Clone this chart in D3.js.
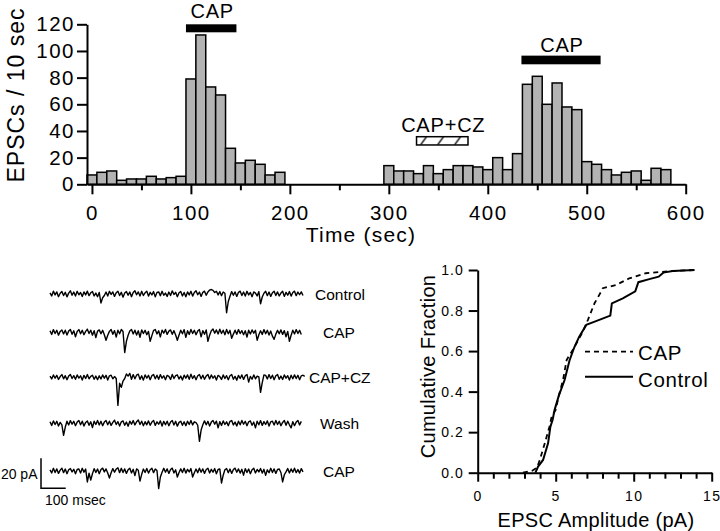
<!DOCTYPE html>
<html><head><meta charset="utf-8">
<script src="https://cdn.jsdelivr.net/npm/d3@7"></script>
<style>
html,body{margin:0;padding:0;background:#fff;}
svg text{font-family:"Liberation Sans",Arial,Helvetica,sans-serif;fill:#000;}
</style></head>
<body>
<svg id="fig" width="720" height="531"></svg>
<script>
// ---------- Top histogram data (EPSCs / 10 sec) ----------
const binTimes = [0,10,20,30,40,50,60,70,80,90,100,110,120,130,140,150,160,170,180,190,
  300,310,320,330,340,350,360,370,380,390,400,410,420,430,440,450,460,470,480,490,500,510,520,530,540,550,560,570,580];
const binCounts = [7,9,10,3,4,4,6,4,5,6,79,112,73,67,27,16,18,15,7,9,
  14,10,10,8,14,8,11,14,14,13,11,20,11,23,75,81,60,76,58,56,17,15,11,7,9,10,3,12,11];
const xTicksMajor = [0,100,200,300,400,500,600];
const xTicksMinor = [50,150,250,350,450,550];
const yTicks = [0,20,40,60,80,100,120];
const treatLabels = ["CAP","CAP+CZ","CAP"];
const treatStart = [95,328,434];
const treatEnd = [146,380,514];

// ---------- Cumulative fraction data ----------
const capAmp  = [2.9,3.5,3.8,3.98,4.3,4.6,4.75,5.0,5.2,5.47,5.7,6.2,6.74,7.06,7.49,7.91,8.02,8.87,9.72,10.78,12.5,13.87];
const capFrac = [0.0,0.01,0.025,0.063,0.145,0.227,0.28,0.31,0.38,0.457,0.556,0.62,0.696,0.753,0.836,0.893,0.91,0.926,0.959,0.984,0.995,1.0];
const ctrlAmp  = [3.7,3.87,4.19,4.51,4.66,4.8,4.93,5.2,5.57,5.89,6.2,6.5,6.96,7.5,8.0,8.5,8.6,9.3,10.1,10.3,11.0,11.6,11.9,12.5,13.9];
const ctrlFrac = [0.0,0.03,0.063,0.145,0.227,0.26,0.31,0.38,0.457,0.555,0.62,0.67,0.729,0.745,0.76,0.775,0.835,0.86,0.895,0.94,0.955,0.967,0.987,0.995,1.0];
const cdfXTicks = [0,5,10,15];
const cdfXMinor = [1,2,3,4,6,7,8,9,11,12,13,14];
const cdfYTicks = [0,0.2,0.4,0.6,0.8,1.0];

// ---------- Example current traces (pA, sampled every 6.87 ms) ----------
const traceNames = ["Control","CAP","CAP+CZ","Wash","CAP"];
const traceControl = [
0.8,-1.3,1.9,-0.6,1.4,-1.8,0.5,1.6,-1.0,1.1,-1.9,0.6,2.1,-0.8,1.3,-1.4,1.8,-0.5,1.0,-1.6,
1.4,-0.6,1.9,-1.1,0.8,1.6,-1.3,0.6,-1.8,1.0,-6.0,-2.5,-1.0,1.3,-1.4,1.8,-0.3,1.4,-1.6,0.8,
1.9,-1.0,1.1,-2.1,0.6,1.6,-0.8,1.3,-1.8,1.0,2.1,-0.5,1.4,-1.3,1.8,-1.0,0.8,1.9,-1.4,1.1,
-0.6,1.6,-1.9,1.0,1.4,-1.1,1.8,-0.8,0.6,-1.6,1.3,-1.0,2.1,-0.3,1.1,-1.8,0.8,1.6,-1.3,1.0,
-1.9,1.4,-0.6,1.8,-1.4,1.0,2.2,-0.5,1.3,-1.6,1.1,1.9,-0.8,1.4,2.6,3.0,2.4,1.0,1.8,-0.6,
1.6,-1.1,1.3,0.5,-12.5,-5.0,-1.5,1.6,-0.8,1.4,-1.6,1.1,1.9,-1.0,1.3,-1.4,1.8,-0.6,1.0,-1.8,
1.4,0.6,-1.3,1.6,-6.5,-2.0,0.5,1.8,-1.1,1.3,-1.6,0.8,1.9,-1.0,1.4,-1.3,0.6,1.8,-1.6,1.1,
-0.8,1.6,-1.4,1.0,1.9,-1.1,1.3,-0.5,1.4,-1.0];
const traceCap1 = [
1.0,-1.4,1.8,-0.8,1.3,-1.9,0.6,1.6,-1.1,1.4,-1.8,0.8,1.9,-1.3,1.0,-3.0,0.5,1.8,-1.0,1.3,
-1.6,0.6,2.1,-0.8,1.4,-1.9,1.1,-3.5,0.8,1.6,-1.0,1.3,-1.6,-5.3,-2.0,0.6,1.8,-1.3,1.1,-3.2,
1.4,-1.0,1.9,0.5,-13.5,-6.0,-2.0,0.8,1.9,-1.1,1.4,-1.8,1.0,-3.3,1.6,-0.8,1.3,-1.6,0.6,-6.0,
-2.2,1.3,1.8,-1.1,1.0,-3.1,1.4,-0.6,1.9,-1.4,0.8,1.6,-1.3,1.1,-1.8,-5.3,-1.8,1.4,-1.0,1.8,
-3.4,1.0,-1.4,1.9,-0.8,1.3,-1.6,0.8,1.8,-3.0,1.1,-1.3,1.6,-6.0,-2.0,1.0,2.2,-0.6,1.6,-1.1,
2.1,-0.8,1.4,-1.6,1.9,-1.0,1.3,-4.0,-1.2,1.4,-1.3,1.8,-0.8,1.1,-1.6,1.0,-3.2,1.4,-1.1,1.6,
-0.6,1.3,-5.3,-1.6,1.0,-1.4,1.8,-1.0,1.3,-1.8,0.8,-2.6,-4.7,-1.2,1.3,-1.0,1.6,-1.4,1.1,-3.0,
0.6,-6.0,-2.0,1.4,-1.1,1.8,-0.8,1.3,-1.4];
const traceCapCz = [
0.8,-1.1,1.6,-0.6,1.3,-1.4,0.5,1.8,-1.0,1.1,-1.6,0.8,1.9,-0.8,1.1,-1.3,1.6,-0.5,1.0,-1.8,
1.3,-0.8,1.8,-1.0,0.6,1.4,-1.3,0.8,-1.6,1.0,-1.1,1.6,-0.6,1.3,-1.8,1.0,1.4,-1.0,0.5,-0.8,
-18.7,-4.0,-6.7,-2.5,-0.8,2.2,0.8,2.6,-1.3,1.8,-1.0,1.4,2.1,-1.4,1.0,-1.9,1.6,-0.5,1.3,-1.6,
1.1,1.9,-1.0,1.4,-1.3,1.8,-0.6,1.0,-1.6,1.3,0.6,-1.4,1.9,-0.8,1.1,1.6,-1.1,0.8,-1.8,1.4,
-0.6,1.6,-1.3,2.1,-0.8,1.1,-1.6,1.0,1.8,-1.0,1.4,-1.3,0.8,1.9,-1.1,1.6,-0.6,1.0,-1.8,1.3,
0.5,-1.4,1.6,-0.8,1.1,-1.6,1.0,1.8,-1.3,0.6,-1.9,1.3,-0.8,1.6,-1.4,1.0,1.9,-3.2,0.6,-1.3,
1.6,-1.0,0.8,0.3,-10.0,-3.5,1.6,1.3,-1.1,1.8,-0.8,1.4,-1.6,1.0,1.9,-1.3,0.8,-1.4,1.6,-0.6,
1.1,-1.8,1.4,-1.0,1.6,-0.8,1.3,-1.6,1.0,1.4,0.6];
const traceWash = [
1.0,-1.4,1.6,-0.8,1.3,-1.8,0.6,-1.0,-8.0,-2.5,1.4,-1.1,1.8,-0.6,1.3,-1.6,0.8,1.9,-1.0,1.4,
-1.8,0.6,1.6,-1.3,1.0,-2.8,1.4,-0.8,1.9,-1.1,1.3,-1.6,0.8,1.8,-1.0,1.4,-1.4,0.6,2.1,-0.8,
1.1,-1.8,1.0,1.6,-1.3,0.8,-1.9,1.4,-0.6,1.8,-1.1,1.0,2.2,-0.8,1.4,-1.6,1.1,-1.0,1.6,-1.3,
0.8,1.9,-1.4,1.0,-0.6,1.6,-1.8,1.3,-1.0,1.4,-1.6,0.8,1.8,-1.1,1.3,-1.9,0.6,1.4,-1.3,1.0,
-1.6,1.4,-0.8,1.8,-1.1,1.0,0.5,-1.3,-12.0,-4.5,-1.0,1.6,-1.0,1.3,-1.8,0.8,1.9,-0.6,1.4,-3.0,
1.1,-1.4,1.6,-0.8,1.0,-1.6,1.3,1.8,-1.1,0.8,-1.8,1.4,-1.0,1.9,-0.6,1.3,-1.6,1.0,1.6,-1.3,
0.8,-3.0,1.4,-1.0,1.8,-1.4,1.1,-0.8,1.6,-1.8,1.0,1.4,-1.1,1.9,-0.8,1.3,-1.6,0.6,1.8,-1.3,
1.4,-1.0,-3.0,1.1,-1.6,0.8,1.9,-1.1,1.3];
const traceCap2 = [
0.8,-1.3,1.8,-1.0,1.4,-1.6,0.6,1.9,-1.1,1.3,-1.8,0.8,1.6,-0.6,1.1,-1.9,1.0,1.4,-1.3,1.8,
-0.8,1.3,-7.3,-1.5,-6.0,-1.8,1.6,-1.0,1.3,-1.8,1.0,1.9,-0.6,1.4,-1.3,-4.7,-1.2,1.6,-0.8,1.3,
2.1,-1.1,1.8,-1.0,1.4,-1.6,0.8,1.9,-1.3,1.1,-3.0,1.4,0.5,-6.7,-2.2,1.3,-1.0,1.6,-1.4,0.8,
1.8,-1.1,1.3,0.3,-11.7,-4.0,-0.8,1.8,-0.8,1.4,-1.6,1.0,1.9,-1.3,0.8,-4.0,-1.0,1.4,-1.0,1.8,
-1.4,1.1,-0.6,1.6,-4.0,-1.2,1.3,-1.1,1.9,-0.8,1.4,-1.6,1.0,1.8,-1.3,1.1,-0.8,1.6,-1.8,1.0,
1.4,-8.0,-2.8,0.8,1.6,-1.1,1.3,-1.6,1.0,1.9,-0.8,1.4,-1.4,1.1,-2.8,1.6,-1.0,1.3,-1.8,0.8,
1.8,-1.3,1.0,-0.6,1.6,-1.4,1.1,-2.9,0.8,-1.1,1.8,-1.0,1.4,-1.6,1.0,1.3,-1.0,-7.3,-2.5,-0.6,
1.6,-1.3,1.4,-0.8,1.9,-1.1,1.0,-1.4,1.6,-0.6];
const traces = [traceControl, traceCap1, traceCapCz, traceWash, traceCap2];
const sampleMs = 6.87;

const FONT = '"Liberation Sans",Arial,Helvetica,sans-serif';
const svg = d3.select("#fig");

// ================= TOP HISTOGRAM =================
const xT = d3.scaleLinear().domain([-5,600]).range([87,685.7]);
const yT = d3.scaleLinear().domain([0,120]).range([184.3,24.3]);
const gTop = svg.append("g");

gTop.selectAll("rect.bar").data(binTimes.map((t,i)=>({t, v:binCounts[i]})))
  .join("rect").attr("class","bar")
  .attr("x", d=>xT(d.t-5)).attr("width", d=>xT(d.t+5)-xT(d.t-5))
  .attr("y", d=>yT(d.v)).attr("height", d=>yT(0)-yT(d.v))
  .attr("fill","#b3b3b3").attr("stroke","#000").attr("stroke-width",1.5);

function styleAxis(g, fs, ls){
  g.attr("font-family", FONT).attr("font-size", fs);
  g.selectAll("path.domain").attr("stroke","#000").attr("stroke-width",2);
  g.selectAll(".tick line").attr("stroke","#000").attr("stroke-width",2);
  g.selectAll(".tick text").attr("fill","#000").style("letter-spacing", ls+"px");
}
const gxT = gTop.append("g").attr("transform",`translate(0,${yT(0)})`)
  .call(d3.axisBottom(xT).tickValues(xTicksMajor).tickSize(10).tickSizeOuter(0).tickPadding(11).tickFormat(d3.format("d")));
styleAxis(gxT, 20.5, 1.5);
const gxTm = gTop.append("g").attr("transform",`translate(0,${yT(0)})`)
  .call(d3.axisBottom(xT).tickValues(xTicksMinor).tickSize(6).tickSizeOuter(0).tickFormat(""));
gxTm.select("path.domain").remove();
styleAxis(gxTm, 20, 0);
const gyT = gTop.append("g").attr("transform",`translate(${xT(-5)},0)`)
  .call(d3.axisLeft(yT).tickValues(yTicks).tickSize(10).tickSizeOuter(0).tickPadding(2));
styleAxis(gyT, 20.5, 1.5);

gTop.append("text").attr("transform",`translate(24,95) rotate(-90)`)
  .attr("text-anchor","middle").attr("font-size",23).style("letter-spacing","1px").text("EPSCs / 10 sec");
gTop.append("text").attr("x",361).attr("y",241.5).attr("text-anchor","middle")
  .attr("font-size",21).style("letter-spacing","1.2px").text("Time (sec)");

// treatment bars
const defs = svg.append("defs");
const pat = defs.append("pattern").attr("id","hatch").attr("patternUnits","userSpaceOnUse")
  .attr("width",17).attr("height",8.3).attr("x",xT(treatStart[1])+4).attr("y",yT(35.7));
pat.append("rect").attr("width",17).attr("height",8.3).attr("fill","#fff");
pat.append("line").attr("x1",0).attr("y1",8.3).attr("x2",6).attr("y2",0).attr("stroke","#000").attr("stroke-width",1.3);

const barLevels = [[114,120],[29.5,35.7],[90,96.5]];
const labelBase = [18,131.5,51.5];
treatLabels.forEach((lab,i)=>{
  const [lo,hi] = barLevels[i];
  gTop.append("rect").attr("x",xT(treatStart[i])).attr("width",xT(treatEnd[i])-xT(treatStart[i]))
    .attr("y",yT(hi)).attr("height",yT(lo)-yT(hi))
    .attr("fill", i===1 ? "url(#hatch)" : "#000")
    .attr("stroke","#000").attr("stroke-width", i===1 ? 1.5 : 0);
  gTop.append("text").attr("x",(xT(treatStart[i])+xT(treatEnd[i]))/2+1).attr("y",labelBase[i])
    .attr("text-anchor","middle").attr("font-size",20).style("letter-spacing","0.8px").text(lab);
});

// ================= TRACES =================
const xTr = d3.scaleLinear().domain([0,149*sampleMs]).range([50,303]);
const yTr = d3.scaleLinear().domain([0,20]).range([0,-30]);
const rowBase = [294,332.3,377.3,423.3,471];
const rowLabelX = [315,323,309,320,323];
const gTr = svg.append("g");
traces.forEach((tr,k)=>{
  const line = d3.line().x((d,i)=>xTr(i*sampleMs)).y(d=>rowBase[k]+yTr(d));
  gTr.append("path").attr("d",line(tr)).attr("fill","none").attr("stroke","#000")
    .attr("stroke-width",1.4).attr("stroke-linejoin","round");
  gTr.append("text").attr("x",rowLabelX[k]).attr("y",rowBase[k]).attr("dy","0.36em")
    .attr("font-size",15.5).text(traceNames[k]);
});
// scale bar: 20 pA, 100 msec
const sbX = 41, sbY = 488.3;
gTr.append("path").attr("d",`M${sbX},${sbY+yTr(20)}V${sbY}H${sbX + xTr(100)-xTr(0)}`)
  .attr("fill","none").attr("stroke","#000").attr("stroke-width",1.5);
gTr.append("text").attr("x",37.5).attr("y",474).attr("dy","0.36em").attr("text-anchor","end")
  .attr("font-size",14).text("20 pA");
gTr.append("text").attr("x",45).attr("y",500).attr("dy","0.36em")
  .attr("font-size",14).text("100 msec");

// ================= CUMULATIVE FRACTION =================
const xB = d3.scaleLinear().domain([0,15]).range([477.7,711.7]);
const yB = d3.scaleLinear().domain([0,1]).range([472.7,270]);
const gB = svg.append("g");
const gxB = gB.append("g").attr("transform",`translate(0,${yB(0)})`)
  .call(d3.axisBottom(xB).tickValues(cdfXTicks).tickSize(9).tickSizeOuter(0).tickPadding(9));
styleAxis(gxB, 14, 1.5);
const gxBm = gB.append("g").attr("transform",`translate(0,${yB(0)})`)
  .call(d3.axisBottom(xB).tickValues(cdfXMinor).tickSize(6).tickSizeOuter(0).tickFormat(""));
gxBm.select("path.domain").remove();
styleAxis(gxBm, 14, 0);
const gyB = gB.append("g").attr("transform",`translate(${xB(0)},0)`)
  .call(d3.axisLeft(yB).tickValues(cdfYTicks).tickSize(9).tickSizeOuter(0).tickPadding(5).tickFormat(d3.format(".1f")));
styleAxis(gyB, 14, 1);

const cdfLine = d3.line().x(d=>xB(d[0])).y(d=>yB(d[1]));
gB.append("path").attr("d",cdfLine(ctrlAmp.map((a,i)=>[a,ctrlFrac[i]])))
  .attr("fill","none").attr("stroke","#000").attr("stroke-width",2);
gB.append("path").attr("d",cdfLine(capAmp.map((a,i)=>[a,capFrac[i]])))
  .attr("fill","none").attr("stroke","#000").attr("stroke-width",1.8).attr("stroke-dasharray","5,4");

// legend
gB.append("line").attr("x1",585).attr("x2",633).attr("y1",351.7).attr("y2",351.7)
  .attr("stroke","#000").attr("stroke-width",1.8).attr("stroke-dasharray","5,4");
gB.append("text").attr("x",638).attr("y",359.5).attr("font-size",20.5).style("letter-spacing","0.6px").text("CAP");
gB.append("line").attr("x1",585).attr("x2",633).attr("y1",376.7).attr("y2",376.7)
  .attr("stroke","#000").attr("stroke-width",2);
gB.append("text").attr("x",638).attr("y",386.5).attr("font-size",20.5).style("letter-spacing","0.6px").text("Control");

gB.append("text").attr("transform",`translate(435,366.5) rotate(-90)`).attr("text-anchor","middle")
  .attr("font-size",20).style("letter-spacing","0.3px").text("Cumulative Fraction");
gB.append("text").attr("x",596).attr("y",526.5).attr("text-anchor","middle")
  .attr("font-size",20).style("letter-spacing","0.3px").text("EPSC Amplitude (pA)");
</script>
</body></html>
